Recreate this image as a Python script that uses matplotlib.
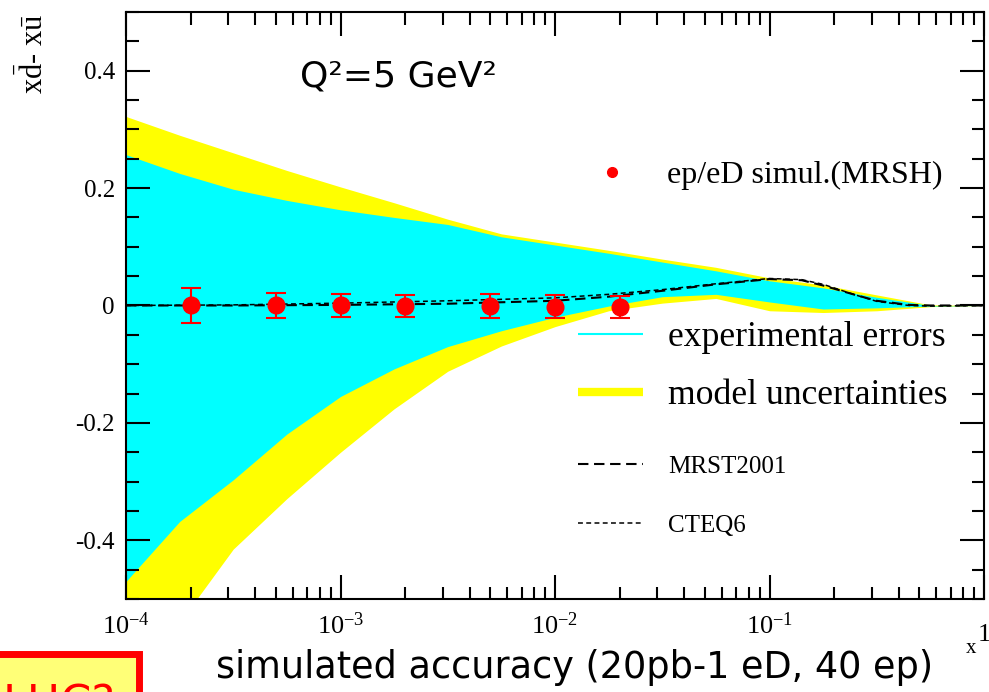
import numpy as np
import matplotlib.pyplot as plt
from matplotlib.lines import Line2D
from matplotlib.patches import Rectangle
from matplotlib.ticker import FixedLocator, MultipleLocator, NullFormatter
from matplotlib.transforms import ScaledTranslation

plt.rcParams['font.family'] = ['Liberation Serif', 'DejaVu Serif']
plt.rcParams['mathtext.fontset'] = 'custom'
plt.rcParams['mathtext.rm'] = 'Liberation Serif'
plt.rcParams['mathtext.it'] = 'Liberation Serif:italic'
plt.rcParams['axes.unicode_minus'] = False


# %% Data: error bands for xdbar - xubar at Q^2 = 5 GeV^2

# log10(x) grid of the band edges
band_logx = [-4.0, -3.75, -3.5, -3.25, -3.0, -2.75, -2.5, -2.25, -2.0,
             -1.75, -1.5, -1.25, -1.0, -0.75, -0.5, -0.25, 0.0]

# experimental errors (inner band)
exp_hi = [0.257, 0.225, 0.198, 0.179, 0.163, 0.150, 0.138, 0.117, 0.103,
          0.089, 0.074, 0.059, 0.042, 0.030, 0.014, 0.000, 0.000]
exp_lo = [-0.470, -0.368, -0.297, -0.219, -0.155, -0.108, -0.070, -0.043, -0.020,
          -0.001, 0.015, 0.019, 0.006, -0.006, -0.004, -0.001, 0.000]

# model uncertainties (outer band)
mod_hi = [0.322, 0.290, 0.260, 0.230, 0.202, 0.175, 0.147, 0.122, 0.108,
          0.094, 0.079, 0.065, 0.047, 0.035, 0.018, 0.001, 0.000]
mod_lo = [-0.670, -0.540, -0.415, -0.329, -0.250, -0.176, -0.112, -0.069, -0.036,
          -0.009, 0.004, 0.012, -0.009, -0.012, -0.009, -0.002, 0.000]

# central PDF curves
curve_logx = [-4.0, -3.5, -3.0, -2.5, -2.0, -1.75, -1.5, -1.25, -1.0,
              -0.85, -0.75, -0.6, -0.5, -0.35, -0.25, 0.0]
mrst2001 = [0.0, 0.0, 0.001, 0.003, 0.008, 0.015, 0.025, 0.036, 0.045,
            0.043, 0.034, 0.018, 0.008, 0.001, 0.0, 0.0]
cteq6 = [0.0, 0.001, 0.004, 0.008, 0.013, 0.019, 0.027, 0.037, 0.046,
         0.044, 0.036, 0.018, 0.007, 0.0, -0.001, 0.0]

# simulated ep/eD points
sim_x = [2e-4, 5e-4, 1e-3, 2e-3, 5e-3, 1e-2, 2e-2]
sim_y = [0.0, 0.0, 0.0, -0.001, -0.001, -0.002, -0.002]
sim_err = [0.029, 0.022, 0.020, 0.019, 0.020, 0.020, 0.019]

xtick_vals = [1e-4, 1e-3, 1e-2, 1e-1, 1.0]
xtick_labels = ['$10^{-4}$', '$10^{-3}$', '$10^{-2}$', '$10^{-1}$', '1']
ytick_vals = [-0.4, -0.2, 0.0, 0.2, 0.4]
ytick_labels = ['-0.4', '-0.2', '0', '0.2', '0.4']


# %% Plot

band_x = 10 ** np.array(band_logx)
curve_x = 10 ** np.array(curve_logx)

fig = plt.figure(figsize=(9.89, 6.92), dpi=100)
ax = fig.add_axes([0.1274, 0.1344, 0.8676, 0.8483])

ax.fill_between(band_x, mod_lo, mod_hi, color='#ffff00', lw=0)
ax.fill_between(band_x, exp_lo, exp_hi, color='#00ffff', lw=0)

ax.plot(curve_x, mrst2001, color='black', lw=1.5, ls=(0, (5, 2.7)))
ax.plot(curve_x, cteq6, color='black', lw=1.1, ls=(0, (3.2, 2.2)))

ax.errorbar(sim_x, sim_y, yerr=sim_err, fmt='o', color='red', ms=12,
            elinewidth=1.5, capsize=7.5, capthick=1.5, zorder=4)

ax.set_xscale('log')
ax.set_xlim(1e-4, 1)
ax.set_ylim(-0.5, 0.5)

ax.xaxis.set_major_locator(FixedLocator(xtick_vals))
ax.set_xticklabels(xtick_labels)
ax.xaxis.set_minor_locator(FixedLocator(
    [m * 10.0 ** e for e in range(-4, 0) for m in range(2, 10)]))
ax.xaxis.set_minor_formatter(NullFormatter())
ax.set_yticks(ytick_vals)
ax.set_yticklabels(ytick_labels)
ax.yaxis.set_minor_locator(MultipleLocator(0.05))

ax.tick_params(which='both', direction='in', top=True, right=True, width=1.5)
ax.tick_params(which='major', length=17)
ax.tick_params(which='minor', length=9)
ax.tick_params(axis='y', labelsize=18, pad=8)
ax.tick_params(axis='x', labelsize=19, pad=10)
for sp in ax.spines.values():
    sp.set_linewidth(1.5)

# plain "1" has no exponent, drop it to the baseline of the other labels
last = ax.xaxis.get_major_ticks()[-1].label1
last.set_transform(last.get_transform() + ScaledTranslation(0, -8 / 72, fig.dpi_scale_trans))

ax.set_ylabel(r'$\mathrm{x\bar{d}}$- $\mathrm{x\bar{u}}$', fontsize=22)
ax.yaxis.set_label_coords(-0.088, 0.928)
ax.set_xlabel('x', fontsize=15)
ax.xaxis.set_label_coords(0.985, -0.068)

ax.text(0.203, 0.89, 'Q²=5 GeV²', transform=ax.transAxes, fontsize=26,
        family='DejaVu Sans', ha='left', va='center')

# legends, split into three groups
leg1 = ax.legend([Line2D([], [], ls='none', marker='o', color='red', ms=7)],
                 ['ep/eD simul.(MRSH)'], loc='center left',
                 bbox_to_anchor=(0.5268, 0.722), frameon=False, fontsize=23,
                 handlelength=2.1, handletextpad=0.7, borderpad=0,
                 borderaxespad=0)
ax.add_artist(leg1)

leg2 = ax.legend([Line2D([], [], color='#00ffff', lw=1.5, solid_capstyle='butt'),
                  Line2D([], [], color='#ffff00', lw=6, solid_capstyle='butt')],
                 ['experimental errors', 'model uncertainties'],
                 loc='center left', bbox_to_anchor=(0.5268, 0.396),
                 frameon=False, fontsize=25.7, handlelength=1.82,
                 handletextpad=0.7, labelspacing=0.7, borderpad=0,
                 borderaxespad=0)
ax.add_artist(leg2)

ax.legend([Line2D([], [], color='black', lw=1.5, ls=(0, (5, 2.7))),
           Line2D([], [], color='black', lw=1.1, ls=(0, (3.2, 2.2)))],
          ['MRST2001', 'CTEQ6'], loc='center left',
          bbox_to_anchor=(0.5268, 0.175), frameon=False, fontsize=18,
          handlelength=2.6, handletextpad=1.0, labelspacing=1.45,
          borderpad=0, borderaxespad=0)

fig.text(0.581, 0.035, 'simulated accuracy (20pb-1 eD, 40 ep)', fontsize=26.4,
         family='DejaVu Sans', ha='center', va='center')

# boxed note in the lower left corner
fig.add_artist(Rectangle((-0.02, -0.05), 0.161, 0.1056, transform=fig.transFigure,
                         facecolor='#ffff77', edgecolor='red', lw=5))
fig.text(0.003, 0.013, 'LHC?', fontsize=32, family='DejaVu Sans', color='red',
         ha='left', va='top')

fig.savefig('out.png', dpi=100)
